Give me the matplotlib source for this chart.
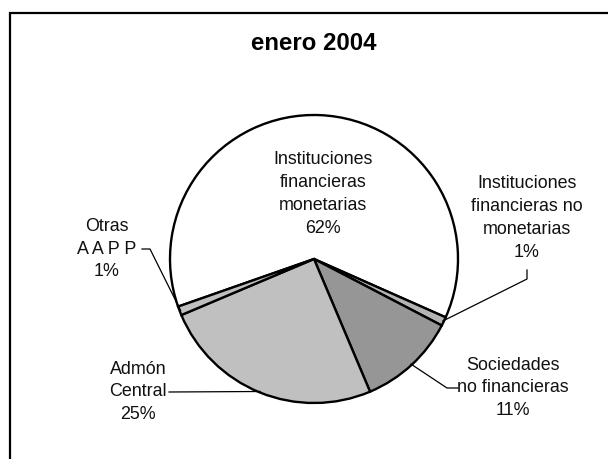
import numpy as np
import matplotlib
matplotlib.use("Agg")
import matplotlib.pyplot as plt

plt.rcParams['font.family'] = ['Liberation Sans', 'DejaVu Sans']

# slices, clockwise from the white one
labels = ["Instituciones\nfinancieras\nmonetarias",
          "Instituciones\nfinancieras no\nmonetarias",
          "Sociedades\nno financieras",
          "Admón\nCentral",
          "Otras\nA A P P"]
pct = [62, 1, 11, 25, 1]
colors = ["#ffffff", "#b4b4b4", "#969696", "#c0c0c0", "#c0c0c0"]
title = "enero 2004"

W, H = 608, 459
fig = plt.figure(figsize=(W / 100, H / 100), dpi=100)
ax = fig.add_axes([0, 0, 1, 1])
ax.set_xlim(0, W)
ax.set_ylim(0, H)
ax.axis("off")

def py(y):
    # pixel row -> data y
    return H - y

cx, cy, R = 314, py(259), 144
wedges, _ = ax.pie(pct, colors=colors, startangle=199.3, counterclock=False,
                   center=(cx, cy), radius=R,
                   wedgeprops=dict(edgecolor="black", linewidth=1.7))
ax.set_xlim(0, W)
ax.set_ylim(0, H)
ax.set_aspect("equal")

def edge_pt(w, r=R - 1):
    a = np.deg2rad((w.theta1 + w.theta2) / 2)
    return cx + r * np.cos(a), cy + r * np.sin(a)

fs = 12.9
# label block centres (pixel coords)
lab_pos = [(323, 194), (527, 218), (513, 388), (138, 392), (107, 249)]
for i, (lab, p) in enumerate(zip(labels, pct)):
    x, y = lab_pos[i]
    ax.text(x, py(y), f"{lab}\n{p}%", ha="center", va="center",
            fontsize=fs, linespacing=1.45, color="#111111")

# leader lines
lw = 0.9
ex, ey = edge_pt(wedges[1])
ax.plot([527, 527, ex], [py(270), py(279), ey], color="black", lw=lw)
ex, ey = edge_pt(wedges[2])
ax.plot([458, 447, ex], [py(388), py(388), ey], color="black", lw=lw)
ex, ey = edge_pt(wedges[3])
ax.plot([169, ex], [py(392), ey], color="black", lw=lw)
ex, ey = edge_pt(wedges[4])
ax.plot([142, 150, ex], [py(249), py(249), ey], color="black", lw=lw)

ax.text(314, py(44), title, ha="center", va="center", fontsize=17.3,
        fontweight="bold")

# chart frame (left and top edges visible)
ax.plot([10, 10, W], [0, py(13), py(13)], color="black", lw=1.6,
        solid_joinstyle="miter", clip_on=False)

fig.savefig("out.png", dpi=100)
